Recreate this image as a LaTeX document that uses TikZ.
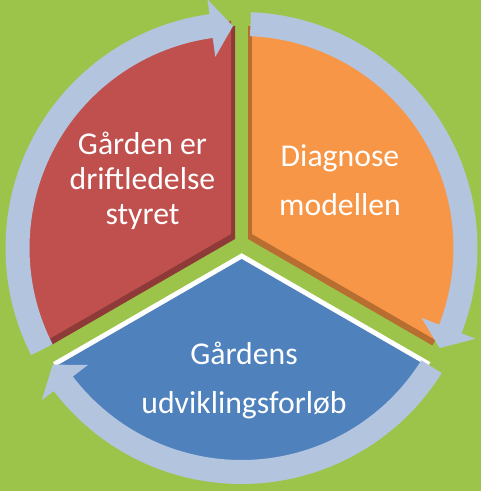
\documentclass[tikz,border=0pt]{standalone}
\usepackage{fontspec}
\setmainfont{Carlito}
\definecolor{bg}{RGB}{156,196,74}
\definecolor{redA}{RGB}{192,80,77}
\definecolor{redD}{RGB}{142,58,56}
\definecolor{orA}{RGB}{247,150,70}
\definecolor{orD}{RGB}{184,110,48}
\definecolor{blA}{RGB}{79,129,189}
\definecolor{ringc}{RGB}{179,196,223}
\newcommand\ringarrow[3]{%
  \fill[ringc,shift={(241.5,243)}] (#1:236) arc[start angle=#1,end angle=#2,radius=236]
    -- (#2:251) -- (#3:222) -- (#2:193) -- (#2:212)
    arc[start angle=#2,end angle=#1,radius=212] -- cycle;}
\tikzset{
  lbl/.style={text=white,align=center,inner sep=0pt},
  tight/.style={font=\fontsize{23.8}{26.25}\selectfont},
  loose/.style={font=\fontsize{23.8}{36.75}\selectfont}
}
\begin{document}
\begin{tikzpicture}[x=0.75pt,y=0.75pt]
\useasboundingbox (0,0) rectangle (481,491);
\fill[bg] (0,0) rectangle (481,491);
% red segment
\fill[redD,shift={(235,252)}] (0,0) -- (90:213) arc[start angle=90,end angle=210,radius=213] -- cycle;
\fill[redA,shift={(231,257)}] (0,0) -- (90:213) arc[start angle=90,end angle=210,radius=213] -- cycle;
% orange segment
\fill[orD,shift={(248,252)}] (0,0) -- (90:213) arc[start angle=90,end angle=-30,radius=213] -- cycle;
\fill[orA,shift={(252,257)}] (0,0) -- (90:213) arc[start angle=90,end angle=-30,radius=213] -- cycle;
% blue segment
\draw[white,line width=7.5pt,line join=miter,shift={(241.7,232)}] (210:215) -- (0,0) -- (330:215);
\fill[blA,shift={(241.7,232)}] (0,0) -- (210:215) arc[start angle=210,end angle=330,radius=215] -- cycle;
% circular arrows
\ringarrow{207}{97.8}{92.2}
\ringarrow{87.7}{-21.2}{-26.8}
\ringarrow{-32}{-142.7}{-148.3}
% labels
\node[lbl,tight] (tr) at (142.5,310) {Gården er\\driftledelse\\styret};
\node[lbl,loose] (to) at (340,311) {Diagnose\\modellen};
\node[lbl,loose] (tb) at (244,111) {Gårdens\\udviklingsforløb};
\end{tikzpicture}
\end{document}
